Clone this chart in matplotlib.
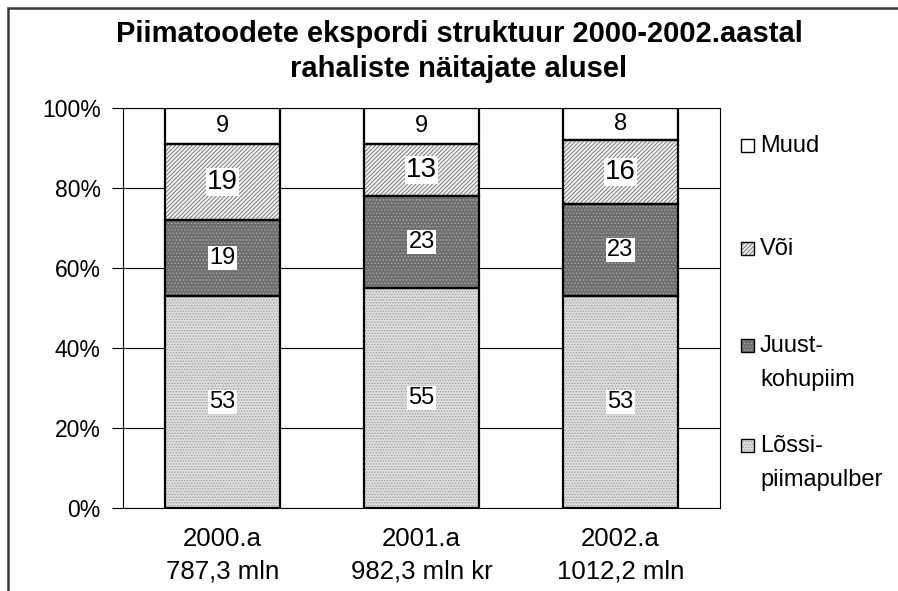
import matplotlib
matplotlib.use('Agg')
import matplotlib.pyplot as plt
from matplotlib.patches import Rectangle
import numpy as np

plt.rcParams['font.family'] = ['Liberation Sans', 'DejaVu Sans']
plt.rcParams['hatch.linewidth'] = 0.6

# ---- data ----
categories = ['2000.a\n787,3 mln', '2001.a\n982,3 mln kr', '2002.a\n1012,2 mln']
series_names = ['Lõssi-\npiimapulber', 'Juust-\nkohupiim', 'Või', 'Muud']
lossi = [53, 55, 53]
juust = [19, 23, 23]
voi = [19, 13, 16]
muud = [9, 9, 8]
y_ticks = [0, 20, 40, 60, 80, 100]
title_lines = ['Piimatoodete ekspordi struktuur 2000-2002.aastal',
               'rahaliste näitajate alusel']

series_values = [lossi, juust, voi, muud]

# ---- styles ----
styles = [
    dict(face='#dedede', hatch='......', hcolor='#9a9a9a', fs=17),
    dict(face='#6e6e6e', hatch='.....', hcolor='#a9a9a9', fs=17),
    dict(face='#eeeeee', hatch='////////', hcolor='#707070', fs=20),
    dict(face='white', hatch=None, hcolor='white', fs=17),
]

W, H = 898, 591
def fx(px):
    return px / W
def fy(py):
    return 1 - py / H

fig = plt.figure(figsize=(W / 100, H / 100), dpi=100)
ax = fig.add_axes([fx(123), fy(508), fx(720) - fx(123), fy(108) - fy(508)])

x = np.arange(len(categories))
bottom = np.zeros(len(categories))
bw = 0.58
for vals, st in zip(series_values, styles):
    vals = np.array(vals, dtype=float)
    ax.bar(x, vals, bottom=bottom, width=bw, color=st['face'],
           edgecolor=st['hcolor'], hatch=st['hatch'], linewidth=0, zorder=2)
    ax.bar(x, vals, bottom=bottom, width=bw, fill=False,
           edgecolor='black', linewidth=1.6, zorder=3)
    for xi, b, v in zip(x, bottom, vals):
        ax.text(xi, b + v / 2, f'{int(v)}', ha='center', va='center',
                fontsize=st['fs'], zorder=4,
                bbox=dict(facecolor='white', edgecolor='none', pad=1.0))
    bottom = bottom + vals

ax.set_xlim(-0.5, len(categories) - 0.5)
ax.set_ylim(0, 100)
ax.set_yticks(y_ticks)
ax.set_yticklabels([f'{v}%' for v in y_ticks], fontsize=16.5)
ax.yaxis.grid(True, color='black', linewidth=0.8, zorder=0)
ax.set_axisbelow(True)
ax.tick_params(axis='y', length=8, width=0.8, direction='out', pad=8)
ax.set_xticks(x)
ax.set_xticklabels(categories, fontsize=18.5, linespacing=1.45)
ax.tick_params(axis='x', length=0, pad=14)
for sp in ax.spines.values():
    sp.set_color('black')
    sp.set_linewidth(0.8)

# title
fig.text(fx(459), fy(42), title_lines[0], ha='center', va='baseline',
         fontsize=21, fontweight='bold')
fig.text(fx(459), fy(77), title_lines[1], ha='center', va='baseline',
         fontsize=21, fontweight='bold')

# legend (manual)
legend_baselines = [452, 352, 255, 152]
for name, st, yb in zip(series_names, styles, legend_baselines):
    r = Rectangle((fx(741), fy(yb)), fx(754) - fx(741), fy(yb - 13) - fy(yb),
                  transform=fig.transFigure, facecolor=st['face'],
                  edgecolor=st['hcolor'], hatch=st['hatch'], linewidth=0)
    fig.patches.append(r)
    r2 = Rectangle((fx(741), fy(yb)), fx(754) - fx(741), fy(yb - 13) - fy(yb),
                   transform=fig.transFigure, fill=False, edgecolor='black',
                   linewidth=1.0)
    fig.patches.append(r2)
    lines = name.split('\n')
    for i, ln in enumerate(lines):
        fig.text(fx(760), fy(yb + 34 * i), ln, ha='left', va='baseline',
                 fontsize=17)

# outer frame
frame = Rectangle((fx(8), -0.1), 1.2, fy(8) + 0.1, transform=fig.transFigure,
                  fill=False, edgecolor='#3a3a3a', linewidth=1.8)
fig.patches.append(frame)

fig.savefig('out.png', dpi=100)
